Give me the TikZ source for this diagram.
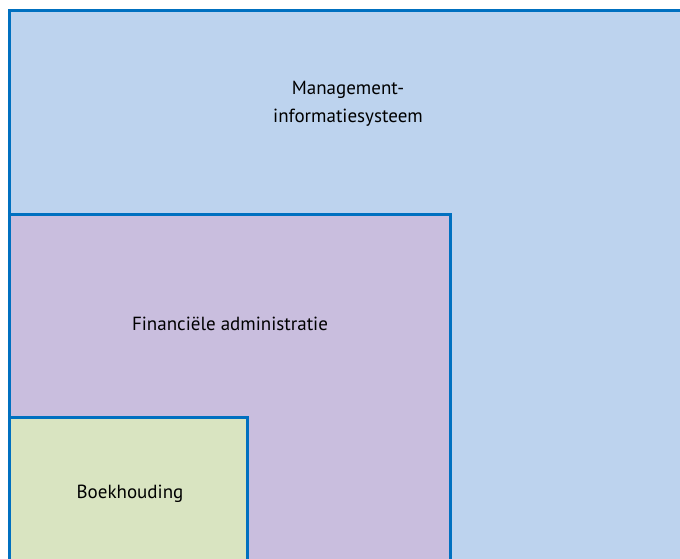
\documentclass[tikz,border=0pt]{standalone}
\usepackage{fontspec}
\setmainfont{PT Sans}
\usepackage{tikz}
\usetikzlibrary{calc}
\definecolor{randblauw}{RGB}{0,112,192}
\definecolor{misblauw}{RGB}{189,211,238}
\definecolor{fapaars}{RGB}{201,190,222}
\definecolor{boekgroen}{RGB}{217,228,193}
\pgfdeclarelayer{background}
\pgfdeclarelayer{foreground}
\pgfsetlayers{background,main,foreground}

\begin{document}
\begin{tikzpicture}[x=1pt,y=-1pt]
\tikzset{vlak/.style={line width=3.2pt, draw=randblauw},
  label/.style={font=\fontsize{19}{28}\selectfont, align=center, text=black}}

\useasboundingbox (0,0) rectangle (680,559);
\clip (0,0) rectangle (680,559);

\begin{pgfonlayer}{background}
\fill [white] (0,0) rectangle (680,559);
\end{pgfonlayer}

% buitenste vlak
\draw [vlak, fill=misblauw] (9.5,10.5) rectangle (700,590);
% middelste vlak
\draw [vlak, fill=fapaars] (9.5,214.5) rectangle (450.5,590);
% binnenste vlak
\draw [vlak, fill=boekgroen] (9.5,417.5) rectangle (247.5,590);

\begin{pgfonlayer}{foreground}
\node [label] (mis) at (348,104) {Management-\\informatiesysteem};
\node [label] (fa) at (230,324) {Financiële administratie};
\node [label] (boek) at (130,494) {Boekhouding};
\end{pgfonlayer}
\end{tikzpicture}
\end{document}
